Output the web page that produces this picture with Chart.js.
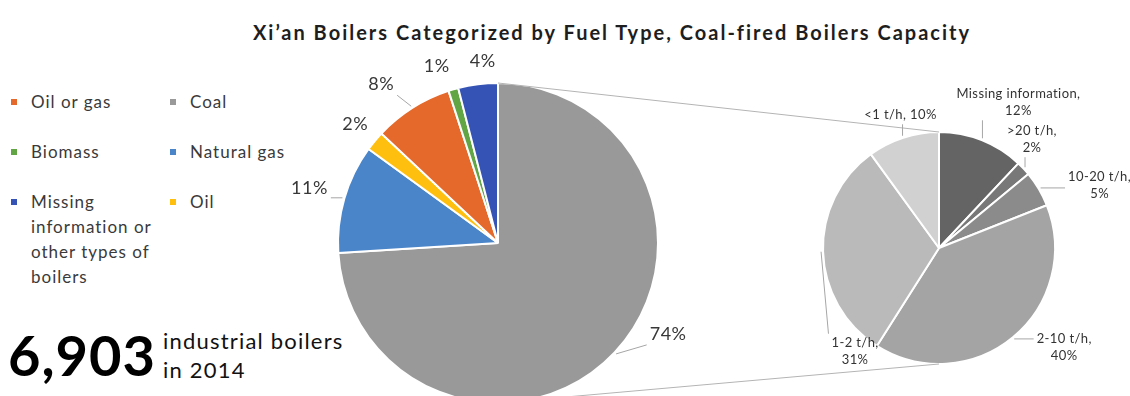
<!DOCTYPE html>
<html>
<head>
<meta charset="utf-8">
<script src="https://cdn.jsdelivr.net/npm/chart.js@4.4.1/dist/chart.umd.min.js"></script>
<style>
  html, body { margin: 0; padding: 0; background: #fff; }
  body {
    width: 1130px; height: 396px; overflow: hidden; position: relative;
    font-family: Lato, "Open Sans", sans-serif; color: #3a3a3a;
  }
  canvas.pie { position: absolute; left: 0; top: 0; }
  #title {
    position: absolute; left: 0; width: 1224px; top: 20px;
    text-align: center; font-weight: bold; font-size: 20px; line-height: 24px;
    letter-spacing: 2px; color: #1e1e1e;
  }
  #legend {
    position: absolute; left: 11px; top: 89px;
    display: grid; grid-template-columns: 159px 150px; row-gap: 25px;
    font-size: 17px; line-height: 25px; letter-spacing: 1px;
  }
  #legend .item { display: flex; align-items: flex-start; }
  #legend .mark { width: 6px; height: 6px; margin: 10px 14px 0 0; flex: none; }
  #legend .name { width: 130px; }
  #total {
    position: absolute; left: 8px; top: 328px; font-weight: bold;
    font-size: 56px; line-height: 54px; letter-spacing: 1px; color: #000;
  }
  #totalNote {
    position: absolute; left: 163px; top: 326px; font-size: 22px; line-height: 29px;
    letter-spacing: 1.2px; color: #111;
  }
</style>
</head>
<body>
<div id="title">Xi’an Boilers Categorized by Fuel Type, Coal-fired Boilers Capacity</div>
<div id="legend"></div>
<div id="total"></div>
<div id="totalNote">industrial boilers<br>in 2014</div>
<canvas id="fuelPie" class="pie" width="1130" height="420"></canvas>
<canvas id="coalPie" class="pie" width="1130" height="420"></canvas>
<script>
// boilers by fuel type (clockwise from 12 o'clock)
const fuelLabels = ["Coal", "Natural gas", "Oil", "Oil or gas", "Biomass", "Missing information or other types of boilers"];
const fuelShares = [74, 11, 2, 8, 1, 4];
const fuelColors = ["#999999", "#4a85c9", "#ffbf0f", "#e4692a", "#62a544", "#3553b4"];
const legendOrder = ["Oil or gas", "Coal", "Biomass", "Natural gas", "Missing information or other types of boilers", "Oil"];

// coal-fired boilers by capacity
const capacityLabels = ["Missing information", ">20 t/h", "10-20 t/h", "2-10 t/h", "1-2 t/h", "<1 t/h"];
const capacityShares = [12, 2, 5, 40, 31, 10];
const capacityColors = ["#646464", "#787878", "#8b8b8b", "#a4a4a4", "#bababa", "#d1d1d1"];

const boilerTotal = 6903;

document.getElementById("total").textContent = boilerTotal.toLocaleString("en-US");

const legend = document.getElementById("legend");
legendOrder.forEach((name) => {
  const i = fuelLabels.indexOf(name);
  const item = document.createElement("div");
  item.className = "item";
  item.innerHTML = '<span class="mark" style="background:' + fuelColors[i] + '"></span><span class="name">' + name + "</span>";
  legend.appendChild(item);
});

// percentage labels with short leader lines, placed relative to each slice's outer edge
const sliceLabels = {
  id: "sliceLabels",
  afterDatasetsDraw(chart, args, opts) {
    const ctx = chart.ctx;
    const meta = chart.getDatasetMeta(0);
    const values = chart.data.datasets[0].data;
    ctx.save();
    ctx.font = opts.font;
    ctx.letterSpacing = opts.spacing || "0px";
    ctx.fillStyle = opts.color;
    ctx.strokeStyle = opts.lineColor;
    ctx.lineWidth = 1;
    ctx.textAlign = "center";
    ctx.textBaseline = "middle";
    meta.data.forEach((arc, i) => {
      const p = opts.place[i];
      const mid = (arc.startAngle + arc.endAngle) / 2;
      const ex = arc.x + Math.cos(mid) * (arc.outerRadius + 2);
      const ey = arc.y + Math.sin(mid) * (arc.outerRadius + 2);
      const lx = ex + p.dx;
      const ly = ey + p.dy;
      const lines = opts.format(chart.data.labels[i], values[i], p);
      const w = Math.max(...lines.map((t) => ctx.measureText(t).width));
      const h = lines.length * opts.lineHeight;
      if (p.leader) {
        const bx = Math.max(lx - w / 2 - 3, Math.min(ex, lx + w / 2 + 3));
        const by = Math.max(ly - h / 2 - 1, Math.min(ey, ly + h / 2 + 1));
        ctx.beginPath();
        ctx.moveTo(ex, ey);
        ctx.lineTo(bx, by);
        ctx.stroke();
      }
      lines.forEach((t, k) => ctx.fillText(t, lx, ly - h / 2 + opts.lineHeight * (k + 0.5)));
    });
    ctx.restore();
  },
};

const fuelChart = new Chart(document.getElementById("fuelPie"), {
  type: "pie",
  data: {
    labels: fuelLabels,
    datasets: [{ data: fuelShares, backgroundColor: fuelColors, borderColor: "#fff", borderWidth: 2, hoverOffset: 0 }],
  },
  options: {
    responsive: false,
    animation: false,
    layout: { padding: { left: 337, right: 471, top: 82, bottom: 16 } },
    plugins: {
      legend: { display: false },
      tooltip: { enabled: false },
      sliceLabels: {
        font: '18px Lato, "Open Sans", sans-serif',
        spacing: "0.5px",
        color: "#383838",
        lineColor: "#a6a6a6",
        lineHeight: 20,
        format: (label, v) => [v + "%"],
        place: [
          { dx: 52, dy: -20, leader: true },
          { dx: -33, dy: -10, leader: true },
          { dx: -18, dy: -16, leader: false },
          { dx: -30, dy: -22, leader: true },
          { dx: -16, dy: -21, leader: false },
          { dx: 5, dy: -21, leader: false },
        ],
      },
    },
  },
  plugins: [sliceLabels],
});

// lines joining the coal slice to the capacity breakdown pie
const connectors = {
  id: "connectors",
  afterDatasetsDraw(chart, args, opts) {
    const a = fuelChart.getDatasetMeta(0).data[0];
    const b = chart.getDatasetMeta(0).data[0];
    const ctx = chart.ctx;
    ctx.save();
    ctx.strokeStyle = opts.color;
    ctx.lineWidth = 1;
    ctx.beginPath();
    ctx.moveTo(a.x, a.y - a.outerRadius);
    ctx.lineTo(b.x, b.y - b.outerRadius);
    ctx.moveTo(a.x, a.y + a.outerRadius);
    ctx.lineTo(b.x, b.y + b.outerRadius);
    ctx.stroke();
    ctx.restore();
  },
};

new Chart(document.getElementById("coalPie"), {
  type: "pie",
  data: {
    labels: capacityLabels,
    datasets: [{ data: capacityShares, backgroundColor: capacityColors, borderColor: "#fff", borderWidth: 2, hoverOffset: 0 }],
  },
  options: {
    responsive: false,
    animation: false,
    layout: { padding: { left: 822, right: 74, top: 131, bottom: 55 } },
    plugins: {
      legend: { display: false },
      tooltip: { enabled: false },
      connectors: { color: "#b4b4b4" },
      sliceLabels: {
        font: '13px Lato, "Open Sans", sans-serif',
        spacing: "0.4px",
        color: "#333333",
        lineColor: "#a6a6a6",
        lineHeight: 17,
        format: (label, v, p) => (p.oneLine ? [label + ", " + v + "%"] : [label + ",", v + "%"]),
        place: [
          { dx: 36, dy: -36, leader: true },
          { dx: 7, dy: -28, leader: true },
          { dx: 59, dy: -3, leader: true },
          { dx: 50, dy: 8, leader: true },
          { dx: 34, dy: 100, leader: true },
          { dx: -2, dy: -21, leader: true, oneLine: true },
        ],
      },
    },
  },
  plugins: [connectors, sliceLabels],
});
</script>
</body>
</html>
